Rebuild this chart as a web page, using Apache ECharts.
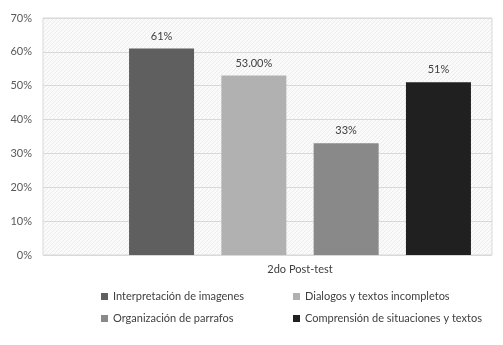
<!DOCTYPE html>
<html>
<head>
<meta charset="utf-8">
<script src="https://cdn.jsdelivr.net/npm/echarts@6/dist/echarts.min.js"></script>
<style>
  html, body { margin: 0; padding: 0; background: #fff; }
  #chart { width: 503px; height: 345px; }
</style>
</head>
<body>
<div id="chart"></div>
<script>
  var categories = ['2do Post-test'];
  var seriesNames = [
    'Interpretación de imagenes',
    'Dialogos y textos incompletos',
    'Organización de parrafos',
    'Comprensión de situaciones y textos'
  ];
  var seriesValues = [61, 53, 33, 51];
  var seriesLabels = ['61%', '53.00%', '33%', '51%'];
  var seriesColors = ['#5f5f5f', '#b1b1b1', '#898989', '#202020'];
  var yTicks = [0, 10, 20, 30, 40, 50, 60, 70];

  // fine diagonal hatch for plot area
  function makeHatch() {
    var c = document.createElement('canvas');
    c.width = 4; c.height = 4;
    var ctx = c.getContext('2d');
    ctx.fillStyle = '#fafafa';
    ctx.fillRect(0, 0, 4, 4);
    ctx.fillStyle = '#ececec';
    for (var i = 0; i < 4; i++) ctx.fillRect(i, 3 - i, 1, 1);
    return c;
  }

  var font = 'Lato, "Open Sans", sans-serif';
  var myChart = echarts.init(document.getElementById('chart'));

  var series = seriesNames.map(function (name, i) {
    return {
      name: name,
      type: 'bar',
      xAxisIndex: 1,
      yAxisIndex: 1,
      barWidth: 65,
      barGap: '42%',
      itemStyle: { color: seriesColors[i] },
      label: {
        show: true,
        position: 'top',
        distance: 7,
        color: '#404040',
        fontSize: 11,
        fontFamily: font,
        formatter: function () { return seriesLabels[i]; }
      },
      data: [seriesValues[i]]
    };
  });

  var legendText = { color: '#404040', fontSize: 11, fontFamily: font };

  myChart.setOption({
    animation: false,
    grid: [
      { left: 43, right: 11, top: 18, bottom: 90, show: true,
        backgroundColor: { image: makeHatch(), repeat: 'repeat' },
        borderColor: '#d9d9d9', borderWidth: 1 },
      { left: 108, right: 11, top: 18, bottom: 90 }
    ],
    legend: [
      { orient: 'vertical', left: 101, top: 291, padding: 0, itemWidth: 7, itemHeight: 7, itemGap: 11,
        icon: 'rect', textStyle: legendText,
        data: [seriesNames[0], seriesNames[2]] },
      { orient: 'vertical', left: 293, top: 291, padding: 0, itemWidth: 7, itemHeight: 7, itemGap: 11,
        icon: 'rect', textStyle: legendText,
        data: [seriesNames[1], seriesNames[3]] }
    ],
    xAxis: [
      { type: 'category', gridIndex: 0, data: [''], show: false },
      { type: 'category', gridIndex: 1, data: categories,
        axisLine: { show: false }, axisTick: { show: false },
        axisLabel: { color: '#404040', fontSize: 11, fontFamily: font, margin: 9 } }
    ],
    yAxis: [
      { type: 'value', gridIndex: 0, min: 0, max: 70, interval: 10,
        axisLine: { show: false }, axisTick: { show: false },
        splitLine: { lineStyle: { color: '#d9d9d9', width: 1 } },
        axisLabel: { color: '#595959', fontSize: 11, fontFamily: font, margin: 11,
          formatter: function (v) { return yTicks.indexOf(v) >= 0 ? v + '%' : ''; } } },
      { type: 'value', gridIndex: 1, min: 0, max: 70, interval: 10, show: false }
    ],
    series: series
  });
</script>
</body>
</html>
